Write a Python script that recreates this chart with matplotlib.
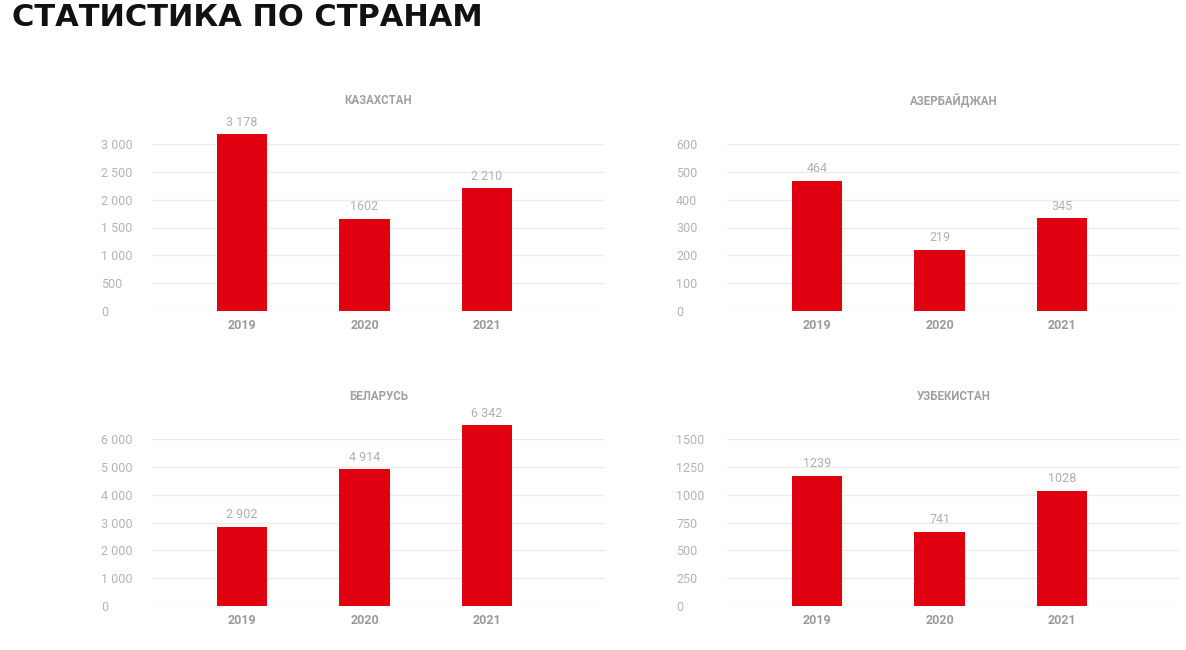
import matplotlib
matplotlib.use("Agg")
import matplotlib.pyplot as plt

plt.rcParams['font.family'] = ['Roboto', 'DejaVu Sans']

years = ['2019', '2020', '2021']
countries = ['КАЗАХСТАН', 'АЗЕРБАЙДЖАН', 'БЕЛАРУСЬ', 'УЗБЕКИСТАН']

# bar heights as drawn (they don't always match the printed labels)
kz_vals = [3175, 1660, 2205]
az_vals = [467, 219, 333]
by_vals = [2850, 4910, 6490]
uz_vals = [1170, 668, 1033]

kz_labels = ['3 178', '1602', '2 210']
az_labels = ['464', '219', '345']
by_labels = ['2 902', '4 914', '6 342']
uz_labels = ['1239', '741', '1028']

kz_ticks = [0, 500, 1000, 1500, 2000, 2500, 3000]
az_ticks = [0, 100, 200, 300, 400, 500, 600]
by_ticks = [0, 1000, 2000, 3000, 4000, 5000, 6000]
uz_ticks = [0, 250, 500, 750, 1000, 1250, 1500]

kz_ticklabels = ['0', '500', '1 000', '1 500', '2 000', '2 500', '3 000']
az_ticklabels = ['0', '100', '200', '300', '400', '500', '600']
by_ticklabels = ['0', '1 000', '2 000', '3 000', '4 000', '5 000', '6 000']
uz_ticklabels = ['0', '250', '500', '750', '1000', '1250', '1500']

panels = [
    (kz_vals, kz_labels, kz_ticks, kz_ticklabels),
    (az_vals, az_labels, az_ticks, az_ticklabels),
    (by_vals, by_labels, by_ticks, by_ticklabels),
    (uz_vals, uz_labels, uz_ticks, uz_ticklabels),
]

W, H = 1186, 650
fig = plt.figure(figsize=(W / 100, H / 100), dpi=100)
fig.patch.set_facecolor('white')

red = '#e0000f'
grid_c = '#ececec'
tick_c = '#b4b4b4'

# axes boxes in pixels: left, bottom(y from top)
lefts = [152, 727, 152, 727]
bottoms = [311, 311, 606, 606]
ax_w, ax_h = 453, 167

for i, (vals, labels, ticks, ticklabels) in enumerate(panels):
    l, b = lefts[i], bottoms[i]
    ax = fig.add_axes([l / W, 1 - b / H, ax_w / W, ax_h / H])
    x = range(len(years))
    bars = ax.bar(x, vals, width=0.41, color=red, clip_on=False, zorder=3)
    ax.set_xlim(-0.735, 2.963)
    ax.set_ylim(0, ticks[-1])
    ax.set_yticks(ticks)
    ax.set_yticklabels(ticklabels)
    ax.set_xticks(list(x))
    ax.set_xticklabels(years, fontweight='bold', color='#9a9a9a', fontsize=9)
    for lab in ax.get_yticklabels():
        lab.set_horizontalalignment('left')
        lab.set_color(tick_c)
        lab.set_fontsize(9)
    ax.tick_params(axis='y', length=0, pad=36.7)
    ax.tick_params(axis='x', length=0, pad=6)
    ax.grid(axis='y', color=grid_c, linewidth=1, zorder=0)
    for s in ax.spines.values():
        s.set_visible(False)
    for bar, txt in zip(bars, labels):
        ax.annotate(txt, (bar.get_x() + bar.get_width() / 2, bar.get_height()),
                    xytext=(0, 4), textcoords='offset points',
                    ha='center', va='bottom', color='#b0b0b0', fontsize=9,
                    annotation_clip=False)
    ax.text(0.5, 1 + 43 / ax_h, countries[i], transform=ax.transAxes,
            ha='center', va='center', fontsize=8.3, fontweight='bold',
            color='#a0a0a0')

fig.text(12 / W, 1 - 18 / H, 'СТАТИСТИКА ПО СТРАНАМ', ha='left', va='center',
         fontsize=22, fontweight='bold', color='#111111',
         family=['DejaVu Sans'])

fig.savefig('out.png', dpi=100, facecolor='white')
